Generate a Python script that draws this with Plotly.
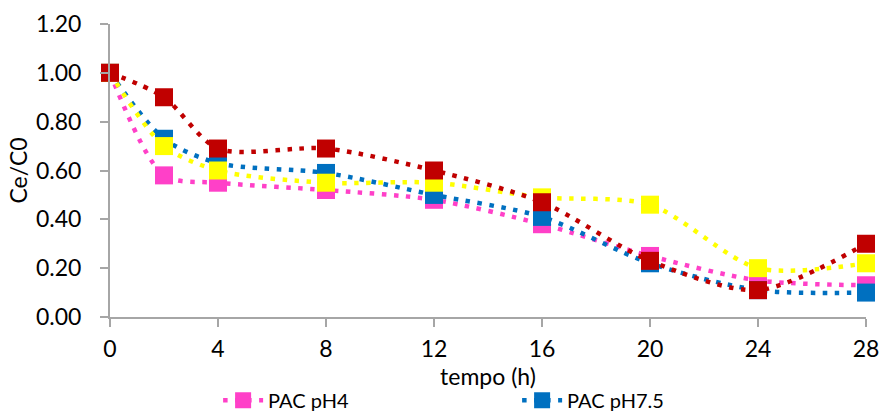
import plotly.graph_objects as go

tempo = [0, 2, 4, 8, 12, 16, 20, 24, 28]
pac_ph4 = [1.00, 0.58, 0.55, 0.52, 0.48, 0.38, 0.25, 0.15, 0.13]
pac_ph75 = [1.00, 0.73, 0.63, 0.59, 0.50, 0.41, 0.22, 0.11, 0.10]
serie3 = [1.00, 0.70, 0.60, 0.55, 0.55, 0.49, 0.46, 0.20, 0.22]
serie4 = [1.00, 0.90, 0.69, 0.69, 0.60, 0.47, 0.23, 0.11, 0.30]

series = [
    ("PAC pH4", pac_ph4, "#FF40C8", True),
    ("PAC pH7.5", pac_ph75, "#0070C0", True),
    ("Serie 3", serie3, "#FFFF00", False),
    ("Serie 4", serie4, "#C00000", False),
]

fig = go.Figure()
for name, vals, col, show in series:
    fig.add_trace(go.Scatter(
        x=tempo, y=vals, name=name, mode="lines+markers",
        line=dict(color=col, width=4.5, dash="4.5px,7.5px", shape="spline", smoothing=0.8),
        marker=dict(symbol="square", size=18, color=col),
        showlegend=show, cliponaxis=False,
    ))

font = "Lato, Carlito, Calibri, sans-serif"
fig.update_layout(
    width=882, height=418,
    margin=dict(l=110, r=16, t=24, b=101, autoexpand=False),
    paper_bgcolor="white", plot_bgcolor="white",
    font=dict(family=font, size=23, color="#000000"),
    showlegend=True,
    legend=dict(orientation="h", x=0.143, xanchor="left", y=-0.218, yanchor="top",
                font=dict(size=20), entrywidth=244, itemwidth=40, bgcolor="rgba(0,0,0,0)",
                borderwidth=0),
    xaxis=dict(range=[0, 28], tickvals=[0, 4, 8, 12, 16, 20, 24, 28],
               showgrid=False, zeroline=False, showline=True, linecolor="#A6A6A6", linewidth=2,
               ticks="outside", ticklen=8, tickcolor="#A6A6A6", tickwidth=2, ticklabelstandoff=2,
               tickfont=dict(size=23), title=dict(text="tempo (h)", font=dict(size=23), standoff=0)),
    yaxis=dict(range=[0, 1.2], tickvals=[0, 0.2, 0.4, 0.6, 0.8, 1.0, 1.2], tickformat=".2f",
               showgrid=False, zeroline=False, showline=True, linecolor="#A6A6A6", linewidth=2,
               ticks="outside", ticklen=8, tickcolor="#A6A6A6", tickwidth=2, ticklabelstandoff=14,
               tickfont=dict(size=23), title=dict(text="Ce/C0", font=dict(size=23), standoff=2)),
)
fig.write_html("out.html")
